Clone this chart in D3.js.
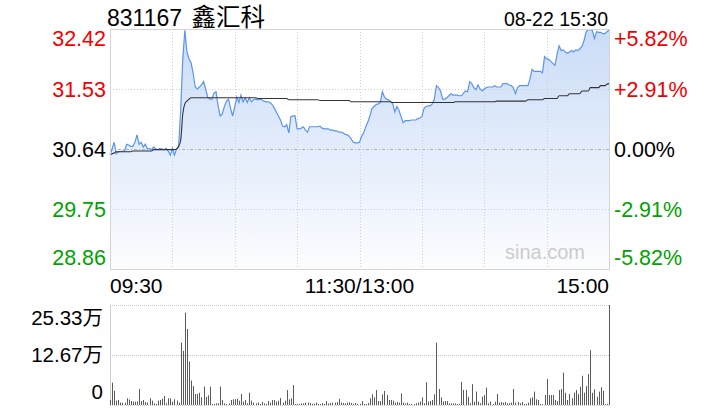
<!DOCTYPE html>
<html><head><meta charset="utf-8">
<script src="https://cdn.jsdelivr.net/npm/d3@7"></script>
<style>
html,body{margin:0;padding:0;background:#fff;}
svg{display:block;font-family:"Liberation Sans",Arial,Helvetica,"Noto Sans CJK SC",sans-serif;}
</style></head>
<body>
<svg id="c" width="720" height="420"></svg>
<script>
const titleCode = "831167";
const titleName = "鑫汇科";
const stamp = "08-22 15:30";
const prevClose = 30.64;
const priceTicks = [32.42, 31.53, 30.64, 29.75, 28.86];
const pctTicks = ["+5.82%", "+2.91%", "0.00%", "-2.91%", "-5.82%"];
const timeLabels = ["09:30", "11:30/13:00", "15:00"];
const volTicks = [25.33, 12.67, 0];
const volTickLabels = ["25.33万", "12.67万", "0"];

const price = [
30.55,30.64,30.74,30.57,30.60,30.60,30.61,30.61,30.71,30.70,
30.68,30.68,30.74,30.85,30.71,30.74,30.67,30.71,30.64,30.65,
30.63,30.67,30.64,30.63,30.65,30.64,30.63,30.65,30.61,30.55,
30.65,30.55,30.64,30.67,31.22,31.98,32.40,32.08,31.98,31.92,
31.76,31.56,31.53,31.56,31.59,31.64,31.53,31.41,31.38,31.38,
31.47,31.49,31.28,31.13,31.16,31.27,31.35,31.38,31.24,31.13,
31.27,31.41,31.33,31.44,31.34,31.40,31.33,31.40,31.34,31.37,
31.38,31.37,31.38,31.37,31.35,31.34,31.34,31.33,31.30,31.25,
31.19,31.13,31.07,30.98,30.97,31.00,30.88,31.12,31.13,31.13,
30.94,30.94,30.95,30.97,30.92,30.89,30.97,30.97,30.97,30.97,
30.97,30.98,30.95,30.94,30.94,30.94,30.92,30.92,30.91,30.91,
30.89,30.89,30.88,30.86,30.85,30.83,30.79,30.74,30.73,30.73,
30.74,30.83,30.88,30.97,31.04,31.13,31.24,31.27,31.30,31.31,
31.33,31.49,31.41,31.38,31.37,31.34,31.31,31.19,31.27,31.21,
31.12,31.03,31.06,31.06,31.06,31.07,31.07,31.07,31.09,31.10,
31.12,31.24,31.27,31.28,31.28,31.31,31.38,31.58,31.55,31.50,
31.38,31.38,31.40,31.43,31.46,31.44,31.44,31.44,31.43,31.43,
31.47,31.50,31.49,31.64,31.61,31.55,31.52,31.59,31.53,31.50,
31.53,31.55,31.56,31.56,31.56,31.58,31.56,31.56,31.56,31.61,
31.61,31.61,31.59,31.58,31.55,31.46,31.55,31.58,31.58,31.58,
31.58,31.58,31.68,31.82,31.79,31.79,31.79,31.79,31.77,32.01,
31.98,31.97,31.94,31.91,31.88,32.04,32.17,32.10,32.11,32.08,
32.06,32.08,32.10,32.08,32.11,32.10,32.13,32.16,32.25,32.38,
32.41,32.41,32.40,32.28,32.38,32.37,32.37,32.35,32.35,32.38,
32.40
];

const avgPrice = [
30.55,30.57,30.58,30.60,30.60,30.60,30.60,30.60,30.60,30.60,
30.60,30.61,30.61,30.61,30.61,30.61,30.61,30.61,30.61,30.61,
30.61,30.63,30.63,30.63,30.63,30.63,30.63,30.63,30.63,30.63,
30.63,30.63,30.64,30.68,30.77,31.16,31.31,31.35,31.38,31.40,
31.40,31.40,31.40,31.40,31.40,31.40,31.40,31.40,31.40,31.40,
31.40,31.40,31.40,31.40,31.40,31.40,31.40,31.40,31.40,31.40,
31.40,31.40,31.40,31.40,31.40,31.40,31.40,31.40,31.40,31.40,
31.40,31.39,31.39,31.39,31.39,31.39,31.39,31.39,31.39,31.39,
31.39,31.39,31.39,31.39,31.39,31.39,31.37,31.37,31.37,31.37,
31.37,31.37,31.37,31.37,31.37,31.37,31.37,31.37,31.37,31.37,
31.37,31.36,31.36,31.36,31.36,31.36,31.36,31.36,31.36,31.36,
31.36,31.36,31.36,31.36,31.36,31.36,31.34,31.34,31.34,31.34,
31.34,31.34,31.34,31.34,31.34,31.34,31.34,31.34,31.34,31.34,
31.34,31.34,31.34,31.34,31.34,31.34,31.33,31.33,31.33,31.33,
31.33,31.33,31.33,31.33,31.33,31.33,31.33,31.33,31.33,31.33,
31.33,31.33,31.33,31.33,31.33,31.33,31.33,31.33,31.33,31.33,
31.33,31.33,31.33,31.33,31.33,31.33,31.34,31.34,31.34,31.34,
31.34,31.34,31.34,31.34,31.34,31.34,31.34,31.34,31.34,31.34,
31.34,31.34,31.34,31.34,31.34,31.34,31.35,31.35,31.35,31.35,
31.35,31.35,31.35,31.35,31.35,31.35,31.35,31.35,31.35,31.35,
31.35,31.37,31.37,31.37,31.37,31.37,31.37,31.37,31.37,31.39,
31.39,31.39,31.39,31.39,31.39,31.39,31.43,31.43,31.43,31.43,
31.43,31.46,31.46,31.46,31.46,31.46,31.46,31.50,31.50,31.50,
31.50,31.55,31.55,31.55,31.55,31.55,31.58,31.58,31.58,31.60,
31.61
];

// volume in 万 shares
const volume = [
1.27,5.66,3.6,1.1,1.27,0.6,0.6,0.6,1.7,1.4,
1.0,0.85,0.85,0.85,4.05,1.0,1.27,0.76,0.6,1.7,
1.1,0.42,0.25,1.1,1.27,1.6,2.28,0.42,1.7,1.7,
0.85,1.44,1.1,0.6,15.8,13.7,23.4,19.25,11.0,6.2,
4.8,2.8,2.8,3.1,1.95,4.65,2.1,2.45,4.65,0.25,
0.25,0.42,0.42,4.65,1.27,0.42,0.25,0.42,1.27,1.44,
1.44,1.6,1.1,2.8,0.85,1.27,0.42,3.1,1.1,0.6,
0.42,0.6,0.25,0.76,0.42,0.25,1.0,0.6,1.27,1.27,
0.85,1.1,1.77,0.6,1.1,3.8,1.44,1.7,5.07,0.25,
0.25,0.3,0.42,0.42,0.6,0.6,0.5,0.3,0.3,0.6,
0.3,0.25,0.5,0.3,1.0,0.4,0.5,0.6,0.6,0.7,
1.6,0.6,0.5,0.4,0.6,0.7,0.5,0.3,0.5,0.3,
0.3,1.0,0.25,0.25,0.5,1.7,2.7,1.95,3.8,1.0,
1.0,2.7,3.55,2.53,1.27,1.27,1.1,0.6,0.76,0.6,
2.95,0.6,0.42,0.6,0.25,0.25,0.25,0.42,0.6,0.85,
1.95,0.42,5.75,0.85,1.0,1.27,2.7,15.8,4.05,1.95,
0.85,1.0,1.0,0.42,0.42,0.42,0.42,0.25,0.3,5.83,
3.8,3.8,2.1,0.42,5.3,0.85,3.4,0.85,0.42,2.1,
2.53,4.4,0.42,0.85,0.25,0.85,2.8,0.6,0.76,0.6,
0.76,0.42,0.42,0.6,4.05,0.6,0.76,0.42,0.76,0.25,
0.3,0.6,1.7,1.95,3.4,1.44,1.27,0.25,0.2,2.53,
6.6,2.53,2.53,2.53,1.27,1.0,3.8,4.05,8.2,3.1,
1.27,2.8,1.7,3.1,3.8,2.8,4.65,7.4,3.1,4.8,
7.85,13.9,3.1,3.97,2.1,3.4,4.5,3.6,0.2,0.3,
25.33
];

const RED = "#f20000", GREEN = "#00a300", BLACK = "#000";
const svg = d3.select("#c");
const L = 110, R = 609, T = 29, B = 269;
const VT = 305, VB = 405;

const x = d3.scaleLinear().domain([0, price.length - 1]).range([L, R]);
const y = d3.scaleLinear().domain([priceTicks[4], priceTicks[0]]).range([B, T]);
const vy = d3.scaleLinear().domain([0, volTicks[0]]).range([VB, VT]);

// gradient
const defs = svg.append("defs");
const g = defs.append("linearGradient").attr("id", "fillg")
  .attr("gradientUnits", "userSpaceOnUse").attr("x1", 0).attr("y1", T).attr("x2", 0).attr("y2", B);
g.append("stop").attr("offset", "0").attr("stop-color", "#cadcf7");
g.append("stop").attr("offset", "1").attr("stop-color", "#fcfdff");

const vIdx = d3.range(1, 8).map(k => k * 30);

// area
svg.append("path").datum(price)
  .attr("d", d3.area().x((d, i) => x(i)).y0(B).y1(d => y(d)))
  .attr("fill", "url(#fillg)");

// grid horizontal
svg.append("g").selectAll("line").data([priceTicks[1], priceTicks[3]]).join("line")
  .attr("x1", L).attr("x2", R).attr("y1", d => Math.round(y(d)) + 0.5).attr("y2", d => Math.round(y(d)) + 0.5)
  .attr("stroke", "#d0d0d0").attr("stroke-dasharray", "1,2");
svg.append("line").attr("x1", L).attr("x2", R)
  .attr("y1", Math.round(y(prevClose)) + 0.5).attr("y2", Math.round(y(prevClose)) + 0.5)
  .attr("stroke", "#b0b0b0").attr("stroke-dasharray", "3,2,1,2");

// vertical grid lines
svg.append("g").selectAll("line").data(vIdx).join("line")
  .attr("x1", d => Math.round(x(d)) + 0.5).attr("x2", d => Math.round(x(d)) + 0.5)
  .attr("y1", T).attr("y2", B)
  .attr("stroke", "#cfcfcf").attr("stroke-dasharray", "1,2");

// watermark
svg.append("text").attr("x", 585).attr("y", 259).attr("text-anchor", "end")
  .attr("font-size", 20).attr("fill", "#cccccc").text("sina.com");

// price line
svg.append("path").datum(price)
  .attr("d", d3.line().x((d, i) => x(i)).y(d => y(d)))
  .attr("fill", "none").attr("stroke", "#5a95ec").attr("stroke-width", 1.2);
// avg line
svg.append("path").datum(avgPrice)
  .attr("d", d3.line().x((d, i) => x(i)).y(d => y(d)).curve(d3.curveMonotoneX))
  .attr("fill", "none").attr("stroke", "#333").attr("stroke-width", 1.1);

// border
svg.append("rect").attr("x", L + 0.5).attr("y", T + 0.5).attr("width", R - L).attr("height", B - T)
  .attr("fill", "none").attr("stroke", "#d4d4d4");

// left / right labels
const colorFor = i => i < 2 ? RED : (i === 2 ? BLACK : GREEN);
const offs = [9, 0, 0, 0, -12];
svg.append("g").selectAll("text").data(priceTicks).join("text")
  .attr("x", 106).attr("y", (d, i) => y(d) + offs[i]).attr("dy", "0.36em")
  .attr("text-anchor", "end").attr("font-size", 21.5).attr("fill", (d, i) => colorFor(i))
  .text(d => d.toFixed(2));
svg.append("g").selectAll("text").data(pctTicks).join("text")
  .attr("x", 614).attr("y", (d, i) => y(priceTicks[i]) + offs[i]).attr("dy", "0.36em")
  .attr("text-anchor", "start").attr("font-size", 21.5).attr("fill", (d, i) => colorFor(i))
  .text(d => d);

// title & stamp
const tt = svg.append("text").attr("x", 107).attr("y", 26).attr("font-size", 23).attr("fill", "#000");
tt.append("tspan").text(titleCode + " ");
tt.append("tspan").attr("dx", 3).attr("font-size", 24.5).text(titleName);
svg.append("text").attr("x", 608).attr("y", 26).attr("text-anchor", "end").attr("font-size", 19.5).attr("fill", "#000").text(stamp);

// time labels
svg.append("text").attr("x", L).attr("y", 293).attr("font-size", 21).text(timeLabels[0]);
svg.append("text").attr("x", x(120)).attr("y", 293).attr("text-anchor", "middle").attr("font-size", 21).text(timeLabels[1]);
svg.append("text").attr("x", R).attr("y", 293).attr("text-anchor", "end").attr("font-size", 21).text(timeLabels[2]);

// volume grid
svg.append("g").selectAll("line").data(volTicks).join("line")
  .attr("x1", L).attr("x2", R).attr("y1", d => Math.round(vy(d)) + 0.5).attr("y2", d => Math.round(vy(d)) + 0.5)
  .attr("stroke", "#c8c8c8").attr("stroke-dasharray", "1,1");
svg.append("line").attr("x1", L + 0.5).attr("x2", L + 0.5).attr("y1", VT).attr("y2", VB)
  .attr("stroke", "#cccccc");

// volume bars
svg.append("g").selectAll("rect").data(volume).join("rect")
  .attr("x", (d, i) => Math.round(x(i)))
  .attr("width", 1)
  .attr("y", d => vy(d))
  .attr("height", d => VB - vy(d))
  .attr("fill", "#5a5a5a");

const voffs = [13, 0, -13];
svg.append("g").selectAll("text").data(volTicks).join("text")
  .attr("x", 103).attr("y", (d, i) => vy(d) + voffs[i]).attr("dy", "0.36em")
  .attr("text-anchor", "end").attr("font-size", 20.5).attr("fill", "#000")
  .text((d, i) => volTickLabels[i]);
</script>
</body></html>
